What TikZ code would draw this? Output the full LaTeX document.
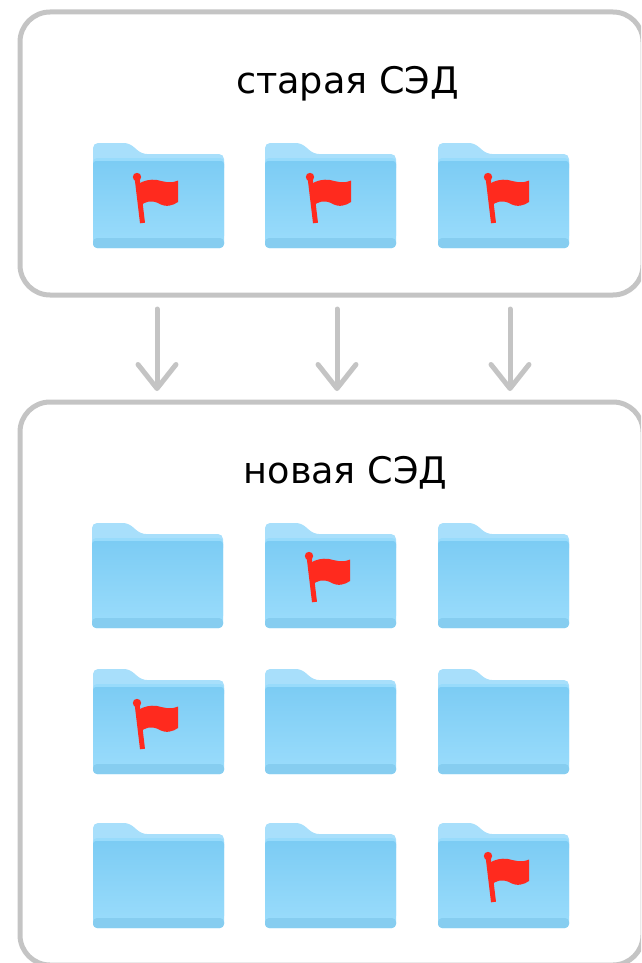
\documentclass[tikz,border=0pt]{standalone}
\usepackage{fontspec}
\setmainfont{DejaVu Sans}
\usetikzlibrary{arrows.meta}

\definecolor{framegray}{HTML}{C4C4C4}
\definecolor{tabblue}{HTML}{A8DFFB}
\definecolor{bodytop}{HTML}{7CCCF4}
\definecolor{bodybottom}{HTML}{98DBFB}
\definecolor{bandblue}{HTML}{86CDF0}
\definecolor{flagred}{HTML}{FF2A1E}

\tikzset{
    frame/.style={draw=framegray, line width=5pt, rounded corners=30pt, outer sep=0pt, inner sep=0pt, anchor=north west},
    caption/.style={font=\fontsize{36.6}{42}\selectfont, inner sep=0pt, anchor=base},
    move/.style={draw=framegray, line width=5pt, line cap=round, -{Straight Barb[length=24pt,width=38pt,round]}},
    pics/folder/.style={code={
        % Back with the tab
        \fill[tabblue, rounded corners=5pt] (0,30) -- (0,0) -- (36,0) -- (49,11) -- (131,11) -- (131,30) -- cycle;
        % Front
        \fill[bodybottom, rounded corners=4pt] (0,15) -- (131,15) -- (131,105) -- (0,105) -- cycle;
        \shade[top color=bodytop, bottom color=bodybottom, rounded corners=3pt] (0,18) -- (131,18) -- (131,96) -- (0,96) -- cycle;
        \fill[bandblue, rounded corners=4pt] (0,95) -- (131,95) -- (131,105) -- (0,105) -- cycle;
    }},
    pics/redflag/.style={code={
        \fill[flagred] (0,0) circle (4.2);
        \draw[flagred, line width=5pt] (0,0) -- (5.5,46);
        \fill[flagred] (1,7) .. controls (7,3.5) and (13,2) .. (20,3)
            .. controls (27,4.5) and (33,7) .. (41,3.5) -- (41,25)
            .. controls (36,28.5) and (29,31) .. (21,26)
            .. controls (14,23) and (8,24.5) .. (3,29) -- cycle;
    }}
}

\begin{document}
\begin{tikzpicture}[x=1pt, y=-1pt]
    \useasboundingbox (0,0) rectangle (641,963);
    \clip (0,0) rectangle (641,963);

    % Frames, both run off the page
    \node[frame, minimum width=623pt, minimum height=283pt] (oldbox) at (20,12) {};
    \node[frame, minimum width=623pt, minimum height=563pt] (newbox) at (20,402) {};

    % Titles
    \node[caption] (oldtitle) at (347.5,94) {старая СЭД};
    \node[caption] (newtitle) at (345.5,483) {новая СЭД};

    % Folders
    \foreach \x/\y in {93/143, 265/143, 438/143,
                       92/523, 265/523, 438/523,
                       93/669, 265/669, 438/669,
                       93/823, 265/823, 438/823}
        \pic at (\x,\y) {folder};

    % Flags
    \foreach \x/\y in {137/177, 310/177, 488/177, 309/556, 137/703, 488/856}
        \pic at (\x,\y) {redflag};

    % Arrows between the frames
    \foreach \name/\x in {a/157, b/337, c/510} {
        \coordinate (from\name) at (\x,309);
        \coordinate (to\name) at (\x,391);
        \draw[move] (from\name) -- (to\name);
    }
\end{tikzpicture}
\end{document}
